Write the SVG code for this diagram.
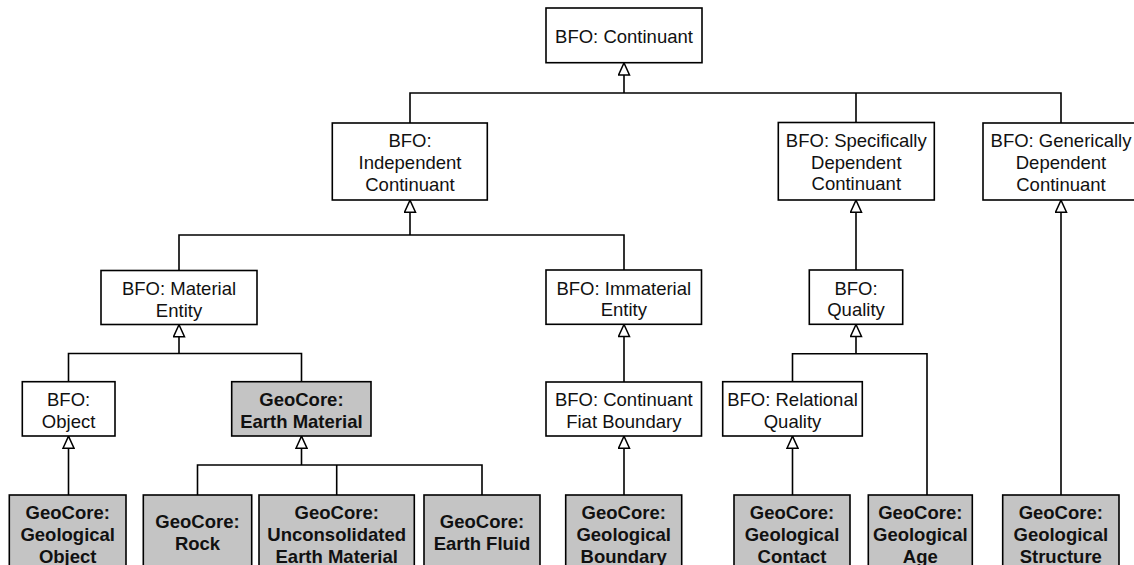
<svg xmlns="http://www.w3.org/2000/svg" width="1134" height="565" viewBox="0 0 1134 565">
  <style>
    .box { fill: #ffffff; stroke: #000000; stroke-width: 1.6; }
    .geo { fill: #c4c4c4; stroke: #000000; stroke-width: 1.6; }
    .lbl { font-family: "Liberation Sans", Arial, sans-serif; font-size: 18.5px; fill: #111111; text-anchor: middle; }
    .bold { font-weight: bold; }
    .edge { fill: none; stroke: #000000; stroke-width: 1.6; }
  </style>
  <defs>
    <marker id="isa" viewBox="0 0 14 13" refX="13.2" refY="6.5" markerWidth="14" markerHeight="13" markerUnits="userSpaceOnUse" orient="auto">
      <path d="M1,1 L13,6.5 L1,12 Z" fill="#ffffff" stroke="#000000" stroke-width="1.5"/>
    </marker>
  </defs>

  <rect width="1134" height="565" fill="#ffffff"/>

  <!-- subclass connectors: each trunk ends in a hollow triangle at the parent -->
  <g id="connectors">
    <path class="edge" d="M410,123 V93 H1061 V123 M856,93 V122.5"/>
    <path class="edge" d="M624,93 V62.7" marker-end="url(#isa)"/>

    <path class="edge" d="M179,270.5 V235 H624 V270"/>
    <path class="edge" d="M410,235 V200" marker-end="url(#isa)"/>

    <path class="edge" d="M68.5,381.7 V353.5 H301.5 V381.7"/>
    <path class="edge" d="M179,353.5 V324.5" marker-end="url(#isa)"/>

    <path class="edge" d="M68.5,495 V436" marker-end="url(#isa)"/>

    <path class="edge" d="M197.5,495 V465 H482 V495 M336.7,465 V495"/>
    <path class="edge" d="M301.5,465 V436" marker-end="url(#isa)"/>

    <path class="edge" d="M624,382 V324.3" marker-end="url(#isa)"/>
    <path class="edge" d="M624,495 V436" marker-end="url(#isa)"/>

    <path class="edge" d="M856,270 V200" marker-end="url(#isa)"/>

    <path class="edge" d="M792.5,381.7 V353.7 H927 V495"/>
    <path class="edge" d="M856,353.7 V324.3" marker-end="url(#isa)"/>

    <path class="edge" d="M792.5,495 V436" marker-end="url(#isa)"/>

    <path class="edge" d="M1061,495 V200" marker-end="url(#isa)"/>
  </g>

  <!-- BFO classes -->
  <g id="bfo-continuant">
    <rect class="box" x="546" y="8" width="156" height="54.7"/>
    <text class="lbl" x="624" y="43.3">BFO: Continuant</text>
  </g>
  <g id="bfo-independent-continuant">
    <rect class="box" x="332.3" y="123" width="155" height="77"/>
    <text class="lbl" x="410" y="147.3">BFO:</text>
    <text class="lbl" x="410" y="169">Independent</text>
    <text class="lbl" x="410" y="190.7">Continuant</text>
  </g>
  <g id="bfo-specifically-dependent-continuant">
    <rect class="box" x="778.3" y="122.5" width="156" height="77.5"/>
    <text class="lbl" x="856.3" y="147">BFO: Specifically</text>
    <text class="lbl" x="856.3" y="168.7">Dependent</text>
    <text class="lbl" x="856.3" y="190.4">Continuant</text>
  </g>
  <g id="bfo-generically-dependent-continuant">
    <rect class="box" x="983" y="123" width="156" height="77"/>
    <text class="lbl" x="1061" y="147.3">BFO: Generically</text>
    <text class="lbl" x="1061" y="169">Dependent</text>
    <text class="lbl" x="1061" y="190.7">Continuant</text>
  </g>
  <g id="bfo-material-entity">
    <rect class="box" x="101" y="270.5" width="156" height="54"/>
    <text class="lbl" x="179" y="295">BFO: Material</text>
    <text class="lbl" x="179" y="316.7">Entity</text>
  </g>
  <g id="bfo-immaterial-entity">
    <rect class="box" x="546" y="270" width="155.5" height="54.3"/>
    <text class="lbl" x="623.8" y="294.5">BFO: Immaterial</text>
    <text class="lbl" x="623.8" y="316.2">Entity</text>
  </g>
  <g id="bfo-quality">
    <rect class="box" x="809.3" y="270" width="93.4" height="54.3"/>
    <text class="lbl" x="856" y="294.5">BFO:</text>
    <text class="lbl" x="856" y="316.2">Quality</text>
  </g>
  <g id="bfo-object">
    <rect class="box" x="22.3" y="381.7" width="92.7" height="54.3"/>
    <text class="lbl" x="68.6" y="406.2">BFO:</text>
    <text class="lbl" x="68.6" y="427.9">Object</text>
  </g>
  <g id="bfo-continuant-fiat-boundary">
    <rect class="box" x="546" y="382" width="155.5" height="54"/>
    <text class="lbl" x="623.8" y="406.3">BFO: Continuant</text>
    <text class="lbl" x="623.8" y="428">Fiat Boundary</text>
  </g>
  <g id="bfo-relational-quality">
    <rect class="box" x="722.7" y="381.7" width="139.6" height="54.3"/>
    <text class="lbl" x="792.5" y="406.2">BFO: Relational</text>
    <text class="lbl" x="792.5" y="427.9">Quality</text>
  </g>

  <!-- GeoCore classes -->
  <g id="geocore-earth-material">
    <rect class="geo" x="231.7" y="381.7" width="139.3" height="54.3"/>
    <text class="lbl bold" x="301.4" y="406.2">GeoCore:</text>
    <text class="lbl bold" x="301.4" y="427.9">Earth Material</text>
  </g>
  <g id="geocore-geological-object">
    <rect class="geo" x="9.3" y="495" width="116.7" height="76"/>
    <text class="lbl bold" x="67.7" y="519.3">GeoCore:</text>
    <text class="lbl bold" x="67.7" y="541">Geological</text>
    <text class="lbl bold" x="67.7" y="562.7">Object</text>
  </g>
  <g id="geocore-rock">
    <rect class="geo" x="143.3" y="495" width="108.4" height="76"/>
    <text class="lbl bold" x="197.5" y="528">GeoCore:</text>
    <text class="lbl bold" x="197.5" y="549.7">Rock</text>
  </g>
  <g id="geocore-unconsolidated-earth-material">
    <rect class="geo" x="259" y="495" width="155.3" height="76"/>
    <text class="lbl bold" x="336.7" y="519.3">GeoCore:</text>
    <text class="lbl bold" x="336.7" y="541">Unconsolidated</text>
    <text class="lbl bold" x="336.7" y="562.7">Earth Material</text>
  </g>
  <g id="geocore-earth-fluid">
    <rect class="geo" x="424" y="495" width="116" height="76"/>
    <text class="lbl bold" x="482" y="528">GeoCore:</text>
    <text class="lbl bold" x="482" y="549.7">Earth Fluid</text>
  </g>
  <g id="geocore-geological-boundary">
    <rect class="geo" x="565.7" y="495" width="116" height="76"/>
    <text class="lbl bold" x="623.7" y="519.3">GeoCore:</text>
    <text class="lbl bold" x="623.7" y="541">Geological</text>
    <text class="lbl bold" x="623.7" y="562.7">Boundary</text>
  </g>
  <g id="geocore-geological-contact">
    <rect class="geo" x="734" y="495" width="116" height="76"/>
    <text class="lbl bold" x="792" y="519.3">GeoCore:</text>
    <text class="lbl bold" x="792" y="541">Geological</text>
    <text class="lbl bold" x="792" y="562.7">Contact</text>
  </g>
  <g id="geocore-geological-age">
    <rect class="geo" x="868.3" y="495" width="104" height="76"/>
    <text class="lbl bold" x="920.3" y="519.3">GeoCore:</text>
    <text class="lbl bold" x="920.3" y="541">Geological</text>
    <text class="lbl bold" x="920.3" y="562.7">Age</text>
  </g>
  <g id="geocore-geological-structure">
    <rect class="geo" x="1002.7" y="495" width="116.3" height="76"/>
    <text class="lbl bold" x="1060.8" y="519.3">GeoCore:</text>
    <text class="lbl bold" x="1060.8" y="541">Geological</text>
    <text class="lbl bold" x="1060.8" y="562.7">Structure</text>
  </g>
</svg>
